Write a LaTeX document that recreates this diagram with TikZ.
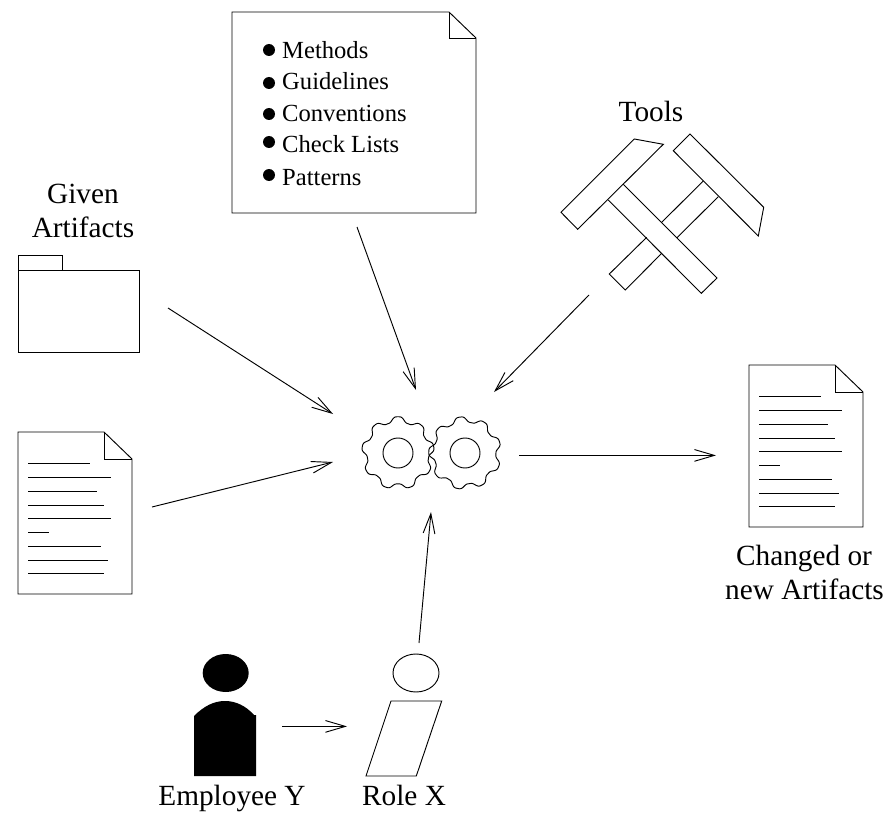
\documentclass[tikz,border=0pt]{standalone}
\usepackage{fontspec}
\setmainfont{Liberation Serif}
\usetikzlibrary{arrows.meta}
\tikzset{
  outline/.style={draw,line width=0.8pt,line join=miter},
  flow/.style={draw,line width=0.8pt,-{Straight Barb[length=17pt,width=10pt,line width=0.8pt]}},
  bigtext/.style={font=\fontsize{25}{30}\selectfont,inner sep=0pt,anchor=base},
  smalltext/.style={font=\fontsize{21}{25}\selectfont,inner sep=0pt,anchor=base west},
  pics/docsheet/.style={code={
    \draw[outline] (0,0) -- (86,0) -- (114,27) -- (114,162) -- (0,162) -- cycle;
    \draw[outline] (86,0) -- (86,27) -- (114,27);
    \foreach \y/\e in {31/72,45/93,59/79,73/86,86/93,100/31,114/83,128/90,141/86}
      \draw[line width=0.8pt] (10,\y+.4) -- (\e,\y+.4);
  }},
  pics/gearwheel/.style={code={
    \draw[line width=0.8pt] plot[domain=0:360,samples=217,smooth] (-\x:{33.6+3*(sin(9*(\x+#1))+.12*sin(27*(\x+#1)))}) -- cycle;
    \draw[line width=0.8pt] (0,0) circle (15);
  }}
}
\begin{document}
\begin{tikzpicture}[x=0.03cm,y=-0.03cm]
\useasboundingbox (0,0) rectangle (884,814);

% connector ends
\coordinate (folder out) at (168,308);
\coordinate (folder in) at (333,414);
\coordinate (sheet out) at (152,507);
\coordinate (sheet in) at (333,462);
\coordinate (note out) at (357,227);
\coordinate (note in) at (416,390);
\coordinate (tools out) at (589,295);
\coordinate (tools in) at (494,392);
\coordinate (gears out) at (519,455.4);
\coordinate (result in) at (716,455.4);
\coordinate (role out) at (419,643);
\coordinate (role in) at (431,512);
\coordinate (person out) at (282,726.4);
\coordinate (person in) at (347,726.4);

% given artifacts
\node[bigtext] (given) at (83,203.5) {Given};
\node[bigtext] (artifacts) at (83,237) {Artifacts};
\draw[outline] (18,270) -- (18,255) -- (62,255) -- (62,270);
\draw[outline] (18,270) rectangle (139,352);
\pic at (18,432) {docsheet};

% note with the list
\draw[outline] (232,12) -- (449,12) -- (476,38) -- (476,213) -- (232,213) -- cycle;
\draw[outline] (449,12) -- (449,38) -- (476,38);
\foreach \b/\y/\t [count=\i] in {50/59/Methods,83/90/Guidelines,114/122/Conventions,142/153/Check Lists,175/185/Patterns} {
  \fill (269,\b) circle (6);
  \node[smalltext] (item\i) at (282,\y) {\t};
}

% tools
\node[bigtext] (tools) at (651,122) {Tools};
\draw[outline] (634.3,139) -- (663.3,144.3) -- (577.7,229.3) -- (561,212.3) -- cycle;
\draw[outline] (608.3,200) -- (701.3,293.3) -- (717,278) -- (623.3,184.3);
\draw[outline] (690,134) -- (673.3,150.7) -- (758.3,236) -- (763.7,207.3) -- cycle;
\draw[outline] (703.3,181) -- (661.7,222.3);
\draw[outline] (718.3,196.7) -- (677,237.7);
\draw[outline] (646.7,237.3) -- (609.3,274) -- (625.3,290) -- (661.7,253.3);

% gears
\pic at (398,453) {gearwheel=0};
\pic at (465,453) {gearwheel=-8};

% result
\pic at (749,365) {docsheet};
\node[bigtext] (changed) at (804,565) {Changed or};
\node[bigtext] (new) at (804.5,599) {new Artifacts};

% employee
\fill (225.7,673) ellipse [x radius=23,y radius=19];
\fill (194,716) .. controls (204,706) and (214,701) .. (225,701) .. controls (236,701) and (246,706) .. (254,715) -- (256,715) -- (256,776) -- (194,776) -- cycle;
\node[bigtext] (employee) at (232,805) {Employee Y};

% role
\draw[outline] (416,673) ellipse [x radius=23,y radius=19];
\draw[outline] (391,701) -- (441.7,701) -- (416.3,776) -- (366,776) -- cycle;
\node[bigtext] (role) at (404,805) {Role X};

% arrows
\draw[flow] (folder out) -- (folder in);
\draw[flow] (sheet out) -- (sheet in);
\draw[flow] (note out) -- (note in);
\draw[flow] (tools out) -- (tools in);
\draw[flow] (gears out) -- (result in);
\draw[flow] (role out) -- (role in);
\draw[flow] (person out) -- (person in);
\end{tikzpicture}
\end{document}
